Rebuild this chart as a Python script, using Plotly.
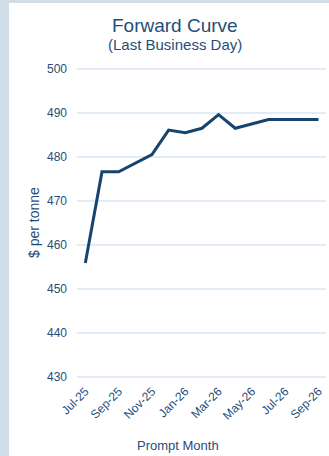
import plotly.graph_objects as go

months = ["Jul-25", "Aug-25", "Sep-25", "Oct-25", "Nov-25", "Dec-25", "Jan-26",
          "Feb-26", "Mar-26", "Apr-26", "May-26", "Jun-26", "Jul-26", "Aug-26", "Sep-26"]
prices = [455.9, 476.6, 476.6, 478.6, 480.5, 486.1, 485.5,
          486.5, 489.6, 486.5, 487.5, 488.5, 488.5, 488.5, 488.5]
tick_months = months[::2]
y_ticks = [430, 440, 450, 460, 470, 480, 490, 500]
title_text = "Forward Curve"
subtitle_text = "(Last Business Day)"
x_title = "Prompt Month"

TXT = "#1f4e79"
LINE = "#17446e"

fig = go.Figure()
fig.add_trace(go.Scatter(x=months, y=prices, mode="lines",
                         line=dict(color=LINE, width=3), hoverinfo="skip"))

fig.update_layout(
    width=329, height=456,
    paper_bgcolor="#d1dde7",
    plot_bgcolor="white",
    margin=dict(l=77, r=3, t=64, b=75),
    showlegend=False,
    font=dict(family="Liberation Sans, Arial, sans-serif", color=TXT, size=12),
    shapes=[dict(type="rect", xref="paper", yref="paper",
                 x0=-68/249, x1=1.1, y0=-0.3, y1=1 + 61/317,
                 fillcolor="white", line=dict(width=0), layer="below")],
    annotations=[
        dict(text=title_text, xref="paper", yref="paper", x=0.394, y=1 + 39/317,
             xanchor="center", yanchor="middle", showarrow=False,
             font=dict(size=19, color=TXT)),
        dict(text=subtitle_text, xref="paper", yref="paper", x=0.394, y=1 + 19/317,
             xanchor="center", yanchor="middle", showarrow=False,
             font=dict(size=15, color=TXT)),
        dict(text=x_title, xref="paper", yref="paper", x=(178 - 77) / 249,
             y=-(445 - 381) / 317, xanchor="center", yanchor="middle",
             showarrow=False, font=dict(size=13, color=TXT)),
    ],
)
fig.update_xaxes(type="category", range=[-0.5, 14.45],
                 tickvals=tick_months, ticktext=tick_months, tickangle=-45,
                 showgrid=False, zeroline=False, showline=False, ticks="")
fig.update_yaxes(range=[429.1, 501.1], tickvals=y_ticks,
                 showgrid=True, gridcolor="#e1ecf7", gridwidth=1.5,
                 zeroline=False, showline=False, ticks="", ticklabelstandoff=9,
                 title=dict(text="$ per tonne", font=dict(size=14, color=TXT), standoff=4))

fig.write_html("out.html", config={"displayModeBar": False},
               post_script="document.body.style.margin='0';document.body.style.padding='0';")
